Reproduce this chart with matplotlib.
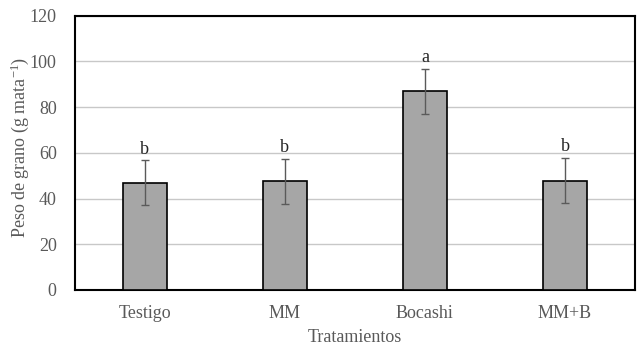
import numpy as np
import matplotlib.pyplot as plt

tratamientos = ['Testigo', 'MM', 'Bocashi', 'MM+B']
peso = [46.9, 47.5, 86.9, 47.8]
error = [9.8, 9.8, 9.9, 9.85]
letras = ['b', 'b', 'a', 'b']

plt.rcParams['font.family'] = ['Liberation Serif', 'DejaVu Serif']
plt.rcParams['mathtext.fontset'] = 'custom'
plt.rcParams['mathtext.rm'] = 'Liberation Serif'
plt.rcParams['mathtext.default'] = 'rm'

fig = plt.figure(figsize=(6.42, 3.51), dpi=100)
ax = fig.add_axes([74.7/642, 1-290/351, (635-74.7)/642, (290-15.7)/351])

x = np.arange(len(tratamientos))
ax.bar(x, peso, width=0.314, color='#a6a6a6', edgecolor='black', linewidth=1.2, zorder=3)
ax.errorbar(x, peso, yerr=error, fmt='none', ecolor='#5a5a5a', elinewidth=1, capsize=3, capthick=1, zorder=4)

for xi, p, e, l in zip(x, peso, error, letras):
    ax.text(xi, p+e+1.2, l, ha='center', va='bottom', fontsize=13, color='#262626')

ax.set_xlim(-0.5, 3.5)
ax.set_ylim(0, 120)
ax.set_yticks(range(0, 121, 20))
ax.set_xticks(x)
ax.set_xticklabels(tratamientos)
ax.yaxis.grid(True, color='#c8c8c8', linewidth=1, zorder=0)
ax.tick_params(length=0, labelsize=13, labelcolor='#595959')
ax.tick_params(axis='y', pad=13)
ax.tick_params(axis='x', pad=11)
for s in ax.spines.values():
    s.set_color('black')
    s.set_linewidth(1.5)

ax.set_ylabel('Peso de grano (g mata$^{-1}$)', fontsize=13, color='#595959', va='center')
ax.yaxis.set_label_coords(-0.0976, 0.52)
ax.set_xlabel('Tratamientos', fontsize=13, color='#595959', labelpad=5)

fig.savefig('out.png', dpi=100)
